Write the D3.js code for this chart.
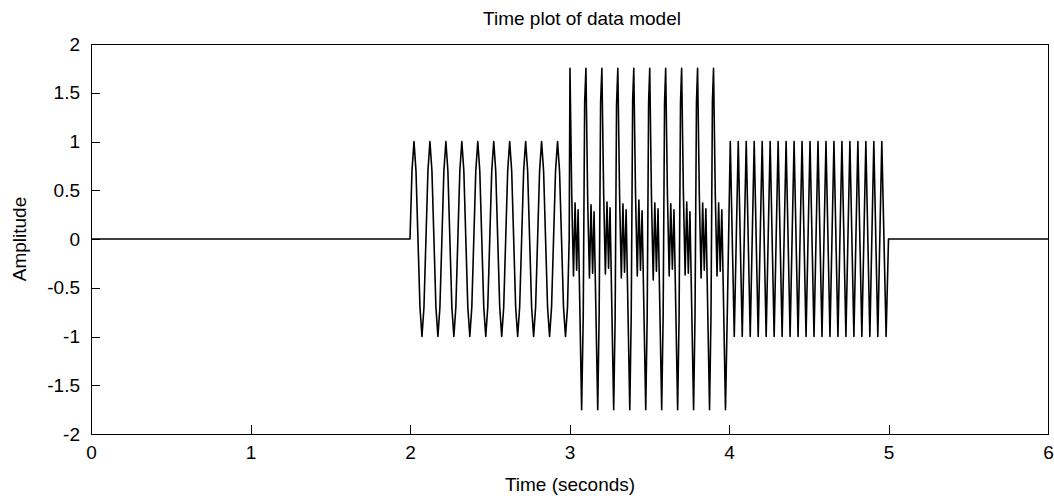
<!DOCTYPE html>
<html>
<head>
<meta charset="utf-8">
<script src="https://cdn.jsdelivr.net/npm/d3@7"></script>
<style>
  html, body { margin: 0; padding: 0; background: #fff; }
  svg { display: block; }
  text { font-family: "Liberation Sans", Arial, Helvetica, sans-serif; fill: #000; }
</style>
</head>
<body>
<svg id="chart" width="1054" height="499"></svg>
<script>
// axis ticks
const xTicks = [0, 1, 2, 3, 4, 5, 6];
const yTicks = [-2, -1.5, -1, -0.5, 0, 0.5, 1, 1.5, 2];

// signal vertices: [time (s), amplitude]
// 0 - 2 s: silent
const quietStart = [[0, 0], [2, 0]];

// 2 - 3 s: single tone, peaks at +/-1
const toneA = [
  [2.000, 0], [2.0125, 0.7], [2.025, 1], [2.0375, 0.7], [2.050, 0], [2.0625, -0.7], [2.075, -1], [2.0875, -0.7],
  [2.100, 0], [2.1125, 0.7], [2.125, 1], [2.1375, 0.7], [2.150, 0], [2.1625, -0.7], [2.175, -1], [2.1875, -0.7],
  [2.200, 0], [2.2125, 0.7], [2.225, 1], [2.2375, 0.7], [2.250, 0], [2.2625, -0.7], [2.275, -1], [2.2875, -0.7],
  [2.300, 0], [2.3125, 0.7], [2.325, 1], [2.3375, 0.7], [2.350, 0], [2.3625, -0.7], [2.375, -1], [2.3875, -0.7],
  [2.400, 0], [2.4125, 0.7], [2.425, 1], [2.4375, 0.7], [2.450, 0], [2.4625, -0.7], [2.475, -1], [2.4875, -0.7],
  [2.500, 0], [2.5125, 0.7], [2.525, 1], [2.5375, 0.7], [2.550, 0], [2.5625, -0.7], [2.575, -1], [2.5875, -0.7],
  [2.600, 0], [2.6125, 0.7], [2.625, 1], [2.6375, 0.7], [2.650, 0], [2.6625, -0.7], [2.675, -1], [2.6875, -0.7],
  [2.700, 0], [2.7125, 0.7], [2.725, 1], [2.7375, 0.7], [2.750, 0], [2.7625, -0.7], [2.775, -1], [2.7875, -0.7],
  [2.800, 0], [2.8125, 0.7], [2.825, 1], [2.8375, 0.7], [2.850, 0], [2.8625, -0.7], [2.875, -1], [2.8875, -0.7],
  [2.900, 0], [2.9125, 0.7], [2.925, 1], [2.9375, 0.7], [2.950, 0], [2.9625, -0.7], [2.975, -1], [2.9875, -0.7],
  [2.998, 0]
];

// 3 - 4 s: mixed tones, peaks at +/-1.75 with small inner wiggle
const mixAB = [
  [3.003, 1.75], [3.014, 0.45], [3.025, -0.38], [3.035, 0.37], [3.045, -0.32], [3.054, 0.30], [3.076, -1.75], [3.086, -0.80], [3.095, 1.40],
  [3.103, 1.75], [3.114, 0.40], [3.125, -0.40], [3.135, 0.35], [3.145, -0.35], [3.154, 0.28], [3.177, -1.75], [3.186, -0.75], [3.195, 1.40],
  [3.203, 1.75], [3.214, 0.48], [3.225, -0.36], [3.235, 0.38], [3.245, -0.30], [3.254, 0.32], [3.277, -1.75], [3.286, -0.82], [3.295, 1.38],
  [3.303, 1.75], [3.314, 0.44], [3.325, -0.40], [3.335, 0.36], [3.345, -0.34], [3.355, 0.30], [3.378, -1.75], [3.387, -0.78], [3.396, 1.42],
  [3.403, 1.75], [3.414, 0.46], [3.425, -0.38], [3.435, 0.40], [3.445, -0.32], [3.455, 0.29], [3.478, -1.75], [3.487, -0.80], [3.496, 1.40],
  [3.503, 1.75], [3.514, 0.42], [3.525, -0.42], [3.535, 0.37], [3.545, -0.33], [3.555, 0.31], [3.578, -1.75], [3.587, -0.80], [3.596, 1.40],
  [3.603, 1.75], [3.614, 0.46], [3.625, -0.38], [3.635, 0.36], [3.645, -0.31], [3.655, 0.30], [3.678, -1.75], [3.687, -0.80], [3.696, 1.40],
  [3.703, 1.75], [3.714, 0.48], [3.725, -0.37], [3.735, 0.38], [3.745, -0.35], [3.755, 0.28], [3.778, -1.75], [3.787, -0.78], [3.796, 1.40],
  [3.803, 1.75], [3.814, 0.44], [3.825, -0.40], [3.835, 0.37], [3.845, -0.32], [3.855, 0.31], [3.878, -1.75], [3.887, -0.80], [3.896, 1.40],
  [3.903, 1.75], [3.914, 0.46], [3.925, -0.38], [3.935, 0.37], [3.945, -0.33], [3.955, 0.30], [3.978, -1.75], [3.990, -0.70]
];

// 4 - 5 s: faster tone, peaks at +/-1
const toneB = [
  [4.008, 1], [4.033, -1], [4.058, 1], [4.083, -1], [4.108, 1], [4.133, -1], [4.158, 1], [4.183, -1],
  [4.208, 1], [4.233, -1], [4.258, 1], [4.283, -1], [4.308, 1], [4.333, -1], [4.358, 1], [4.383, -1],
  [4.408, 1], [4.433, -1], [4.458, 1], [4.483, -1], [4.508, 1], [4.533, -1], [4.558, 1], [4.583, -1],
  [4.608, 1], [4.633, -1], [4.658, 1], [4.683, -1], [4.708, 1], [4.733, -1], [4.758, 1], [4.783, -1],
  [4.808, 1], [4.833, -1], [4.858, 1], [4.883, -1], [4.908, 1], [4.933, -1], [4.958, 1], [4.985, -1]
];

// 5 - 6 s: silent
const quietEnd = [[5.0, 0], [6, 0]];

const W = 1054, H = 499;
const margin = { left: 91, right: W - 1048, top: 44, bottom: H - 434 };
const fontSize = '19px';

const svg = d3.select('#chart');

const x = d3.scaleLinear().domain([0, 6]).range([margin.left, W - margin.right]);
const y = d3.scaleLinear().domain([-2, 2]).range([H - margin.bottom, margin.top]);

const signal = [].concat(quietStart, toneA, mixAB, toneB, quietEnd);

const line = d3.line()
  .x(d => x(d[0]))
  .y(d => y(d[1]));

svg.append('path')
  .datum(signal)
  .attr('d', line)
  .attr('fill', 'none')
  .attr('stroke', '#000')
  .attr('stroke-width', 1.6)
  .attr('stroke-linejoin', 'round');

// axes, ticks pointing inward, box round the plot
const tickLen = 9;
const fmt = d => String(d);

const xAxis = svg.append('g')
  .attr('transform', `translate(0,${y(-2)})`)
  .call(d3.axisBottom(x).tickValues(xTicks).tickSizeInner(-tickLen).tickSizeOuter(0).tickPadding(12).tickFormat(fmt));

const yAxis = svg.append('g')
  .attr('transform', `translate(${x(0)},0)`)
  .call(d3.axisLeft(y).tickValues(yTicks).tickSizeInner(-tickLen).tickSizeOuter(0).tickPadding(11).tickFormat(fmt));

[xAxis, yAxis].forEach(g => {
  g.selectAll('line').attr('stroke', '#000').attr('shape-rendering', 'crispEdges');
  g.select('.domain').remove();
  g.selectAll('text').style('font-size', fontSize).style('font-family', '"Liberation Sans", Arial, sans-serif');
});

svg.append('rect')
  .attr('x', x(0))
  .attr('y', y(2))
  .attr('width', x(6) - x(0))
  .attr('height', y(-2) - y(2))
  .attr('fill', 'none')
  .attr('stroke', '#000')
  .attr('shape-rendering', 'crispEdges');

// labels
svg.append('text')
  .attr('x', 582)
  .attr('y', 25)
  .attr('text-anchor', 'middle')
  .style('font-size', fontSize)
  .text('Time plot of data model');

svg.append('text')
  .attr('x', 570)
  .attr('y', 491)
  .attr('text-anchor', 'middle')
  .style('font-size', fontSize)
  .text('Time (seconds)');

svg.append('text')
  .attr('transform', `translate(26,${(y(2) + y(-2)) / 2}) rotate(-90)`)
  .attr('text-anchor', 'middle')
  .style('font-size', fontSize)
  .text('Amplitude');
</script>
</body>
</html>
